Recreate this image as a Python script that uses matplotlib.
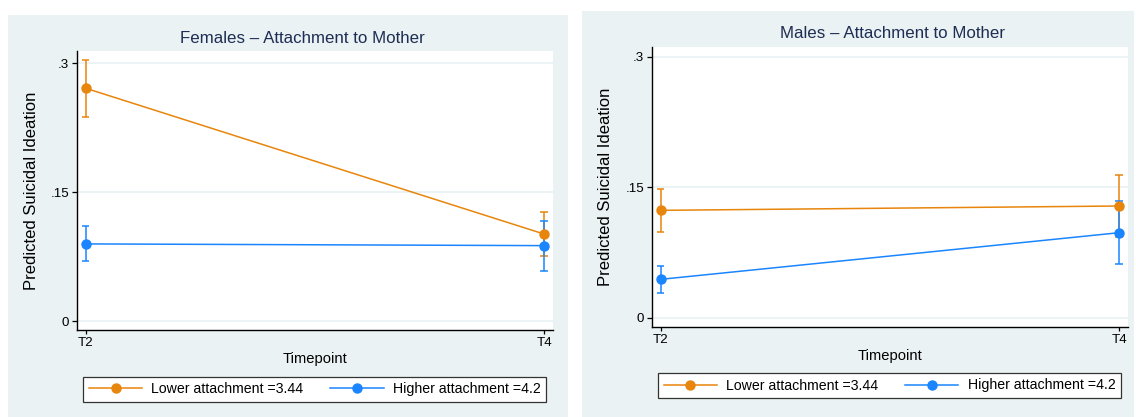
import matplotlib
matplotlib.use("Agg")
import matplotlib.pyplot as plt
from matplotlib.patches import Rectangle

# ---------------- data ----------------
timepoints = ["T2", "T4"]
series_labels = ["Lower attachment =3.44", "Higher attachment =4.2"]
panel_titles = ["Females \u2013 Attachment to Mother", "Males \u2013 Attachment to Mother"]
y_ticks = [0, 0.15, 0.3]
y_tick_labels = ["0", ".15", ".3"]

fem_lower = [0.271, 0.1015]
fem_lower_lo = [0.237, 0.076]
fem_lower_hi = [0.304, 0.127]
fem_higher = [0.090, 0.088]
fem_higher_lo = [0.0698, 0.0588]
fem_higher_hi = [0.1108, 0.117]

male_lower = [0.1234, 0.1284]
male_lower_lo = [0.0985, 0.0931]
male_lower_hi = [0.1483, 0.1644]
male_higher = [0.0441, 0.0977]
male_higher_lo = [0.0284, 0.0617]
male_higher_hi = [0.0594, 0.1338]

# ---------------- style ----------------
plt.rcParams["font.family"] = ["Liberation Sans", "DejaVu Sans"]
ORANGE = "#E8850C"
BLUE = "#1A85FF"
BG = "#EAF2F3"
TITLE_C = "#1E2D53"

W, H = 1136, 417
fig = plt.figure(figsize=(W / 100, H / 100), dpi=100)
fig.patch.set_facecolor("white")


def fx(px):
    return px / W


def fy(py):
    return 1 - py / H


# panel backgrounds
fig.patches.append(Rectangle((fx(7.7), 0), fx(567.7) - fx(7.7), fy(15), transform=fig.transFigure,
                             facecolor=BG, edgecolor="none", zorder=-10))
fig.patches.append(Rectangle((fx(582.3), 0), fx(1134) - fx(582.3), fy(11), transform=fig.transFigure,
                             facecolor=BG, edgecolor="none", zorder=-10))

panels = [
    dict(rect=(76.7, 51, 552.7, 330), ylim=(-0.0101, 0.3143), title=panel_titles[0],
         title_xy=(302, 38.3), ylab_xy=(31.5, 190.8), xlab_xy=(315, 359.3),
         leg_c=(314.7, 389.35),
         data=[(fem_lower, fem_lower_lo, fem_lower_hi), (fem_higher, fem_higher_lo, fem_higher_hi)]),
    dict(rect=(651.7, 46.7, 1127.8, 326.7), ylim=(-0.01034, 0.3115), title=panel_titles[1],
         title_xy=(892, 33.3), ylab_xy=(605, 186.7), xlab_xy=(889.5, 356),
         leg_c=(889.55, 385.5),
         data=[(male_lower, male_lower_lo, male_lower_hi), (male_higher, male_higher_lo, male_higher_hi)]),
]

xpos = list(range(len(timepoints)))
colors = [ORANGE, BLUE]

for p in panels:
    x0, y0, x1, y1 = p["rect"]
    ax = fig.add_axes([fx(x0), fy(y1), fx(x1) - fx(x0), fy(y0) - fy(y1)])
    ax.set_zorder(1)
    ax.set_facecolor("white")
    ax.set_xlim(-0.0196, 1.019)
    ax.set_ylim(*p["ylim"])
    for yt in y_ticks:
        ax.axhline(yt, color=BG, lw=1.3, zorder=0.5)
    # confidence intervals first
    for (vals, lo, hi), c in zip(p["data"], colors):
        ax.vlines(xpos, lo, hi, color=c, lw=1.1, zorder=2)
        ax.hlines(lo, [x - 0.008 for x in xpos], [x + 0.008 for x in xpos], color=c, lw=1.1, zorder=2)
        ax.hlines(hi, [x - 0.008 for x in xpos], [x + 0.008 for x in xpos], color=c, lw=1.1, zorder=2)
    handles = []
    for (vals, lo, hi), c, lab in zip(p["data"], colors, series_labels):
        h, = ax.plot(xpos, vals, color=c, lw=1.1, marker="o", ms=6.5, mec=c, mfc=c, label=lab, zorder=3)
        handles.append(h)
    ax.set_xticks(xpos)
    ax.set_xticklabels(timepoints)
    ax.set_yticks(y_ticks)
    ax.set_yticklabels(y_tick_labels)
    for s in ["top", "right"]:
        ax.spines[s].set_visible(False)
    for s in ["left", "bottom"]:
        ax.spines[s].set_color("black")
        ax.spines[s].set_linewidth(1.0)
    ax.tick_params(axis="y", length=3.6, width=0.9, pad=1.9, labelsize=9.6, colors="black")
    ax.tick_params(axis="x", length=2.9, width=0.9, pad=2.0, labelsize=9.6, colors="black")

    fig.text(fx(p["title_xy"][0]), fy(p["title_xy"][1]), p["title"], ha="center", va="center",
             fontsize=12.2, color=TITLE_C)
    fig.text(fx(p["ylab_xy"][0]), fy(p["ylab_xy"][1]), "Predicted Suicidal Ideation", ha="center",
             va="center", rotation=90, fontsize=12.0, color="black")
    fig.text(fx(p["xlab_xy"][0]), fy(p["xlab_xy"][1]), "Timepoint", ha="center", va="center",
             fontsize=10.6, color="black")

    leg = fig.legend(handles=handles, labels=series_labels, loc="center", ncol=2,
                     bbox_to_anchor=(fx(p["leg_c"][0]), fy(p["leg_c"][1])), bbox_transform=fig.transFigure,
                     fontsize=10.2, handlelength=3.76, handletextpad=0.64, columnspacing=1.9,
                     borderpad=0.4, frameon=True, fancybox=False)
    leg.set_zorder(5)
    fr = leg.get_frame()
    fr.set_edgecolor("#333333")
    fr.set_linewidth(0.9)
    fr.set_facecolor("white")
    fr.set_alpha(1)

fig.savefig("out.png", dpi=100, facecolor="white")
